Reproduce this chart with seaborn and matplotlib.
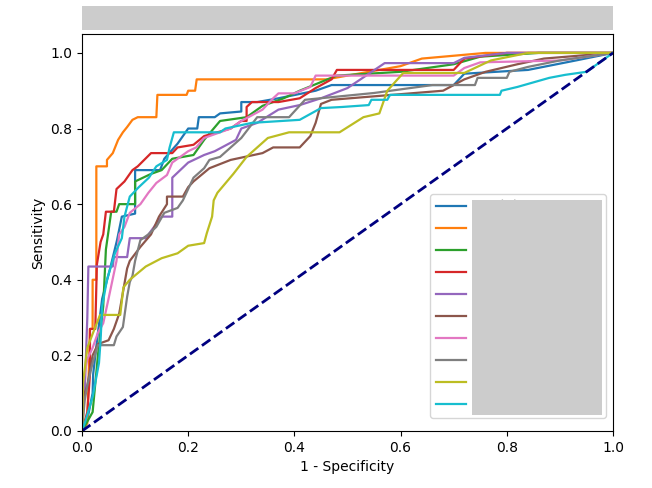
import matplotlib
matplotlib.use("Agg")
import matplotlib.pyplot as plt
from matplotlib.patches import Rectangle
from matplotlib.transforms import IdentityTransform
import seaborn as sns
import pandas as pd

models = ["Model A AUC 0.87", "Model B AUC 0.93", "Model C AUC 0.88",
          "Model D AUC 0.89", "Model E AUC 0.87", "Model F AUC 0.82",
          "Model G AUC 0.87", "Model H AUC 0.83", "Model I AUC 0.80",
          "Model J AUC 0.86"]

fpr_a = [0,0.01,0.02,0.021,0.03,0.038,0.053,0.066,0.075,0.1,0.1,0.147,0.155,0.18,0.2,0.217,0.22,0.25,0.26,0.3,0.3,0.33,0.37,0.44,0.47,0.70,0.72,0.84,0.93,1.0]
tpr_a = [0,0.03,0.1,0.15,0.26,0.35,0.43,0.505,0.567,0.575,0.69,0.69,0.72,0.76,0.80,0.80,0.83,0.83,0.84,0.845,0.87,0.87,0.88,0.90,0.915,0.915,0.945,0.955,0.98,1.0]

fpr_b = [0,0.01,0.015,0.02,0.02,0.027,0.027,0.047,0.047,0.058,0.068,0.077,0.085,0.095,0.105,0.14,0.142,0.197,0.2,0.213,0.216,0.46,0.60,0.64,0.76,1.0]
tpr_b = [0,0.02,0.27,0.27,0.40,0.40,0.70,0.70,0.717,0.735,0.77,0.79,0.804,0.823,0.83,0.83,0.889,0.889,0.90,0.90,0.93,0.93,0.965,0.985,1.0,1.0]

fpr_c = [0,0.02,0.03,0.04,0.045,0.055,0.065,0.07,0.1,0.1,0.13,0.15,0.17,0.21,0.23,0.26,0.31,0.34,0.38,0.41,0.48,0.6,0.7,0.75,0.86,1.0]
tpr_c = [0,0.05,0.2,0.33,0.48,0.58,0.58,0.6,0.6,0.66,0.68,0.69,0.72,0.73,0.77,0.82,0.83,0.86,0.88,0.9,0.94,0.95,0.97,0.99,1.0,1.0]

fpr_d = [0,0.01,0.015,0.015,0.025,0.028,0.035,0.04,0.045,0.06,0.065,0.08,0.095,0.105,0.13,0.17,0.18,0.21,0.23,0.28,0.3,0.31,0.31,0.32,0.37,0.41,0.44,0.47,0.48,0.70,0.72,0.8,1.0]
tpr_d = [0,0.05,0.15,0.27,0.27,0.44,0.5,0.52,0.58,0.58,0.64,0.66,0.69,0.70,0.735,0.735,0.75,0.757,0.78,0.8,0.82,0.82,0.857,0.87,0.87,0.88,0.907,0.93,0.955,0.955,0.985,1.0,1.0]

fpr_e = [0,0.005,0.01,0.012,0.058,0.06,0.085,0.09,0.12,0.15,0.17,0.17,0.185,0.2,0.23,0.25,0.29,0.3,0.33,0.37,0.41,0.45,0.5,0.57,0.70,0.72,0.8,1.0]
tpr_e = [0,0.1,0.3,0.435,0.435,0.46,0.46,0.51,0.51,0.567,0.567,0.67,0.69,0.71,0.73,0.74,0.77,0.80,0.815,0.85,0.862,0.88,0.907,0.973,0.973,0.987,1.0,1.0]

fpr_f = [0,0.0,0.01,0.02,0.03,0.05,0.06,0.07,0.085,0.09,0.11,0.13,0.145,0.16,0.16,0.19,0.2,0.21,0.24,0.28,0.34,0.36,0.41,0.43,0.44,0.45,0.47,0.68,0.72,0.76,0.82,0.87,1.0]
tpr_f = [0,0.08,0.12,0.2,0.23,0.24,0.27,0.31,0.43,0.45,0.487,0.52,0.567,0.60,0.62,0.62,0.645,0.66,0.695,0.717,0.735,0.75,0.75,0.78,0.815,0.865,0.876,0.9,0.93,0.95,0.97,0.985,1.0]

fpr_g = [0,0.002,0.01,0.02,0.03,0.04,0.05,0.065,0.07,0.08,0.09,0.11,0.125,0.14,0.16,0.17,0.185,0.2,0.215,0.23,0.28,0.3,0.34,0.36,0.37,0.4,0.43,0.44,0.7,0.72,0.75,0.9,1.0]
tpr_g = [0,0.13,0.19,0.22,0.26,0.285,0.35,0.45,0.52,0.54,0.577,0.60,0.63,0.656,0.677,0.71,0.725,0.74,0.75,0.775,0.80,0.82,0.85,0.88,0.893,0.893,0.91,0.94,0.94,0.96,0.975,0.98,1.0]

fpr_h = [0,0.005,0.01,0.02,0.03,0.06,0.065,0.077,0.085,0.09,0.095,0.1,0.11,0.125,0.14,0.155,0.18,0.19,0.2,0.21,0.23,0.24,0.26,0.28,0.3,0.33,0.39,0.42,0.55,0.66,0.74,0.745,0.8,0.805,0.84,0.9,1.0]
tpr_h = [0,0.08,0.12,0.18,0.227,0.227,0.25,0.275,0.355,0.394,0.41,0.45,0.505,0.52,0.54,0.577,0.59,0.61,0.64,0.67,0.695,0.717,0.725,0.75,0.775,0.83,0.83,0.876,0.894,0.915,0.915,0.934,0.934,0.95,0.963,0.98,1.0]

fpr_i = [0,0.002,0.01,0.025,0.034,0.072,0.078,0.09,0.12,0.15,0.18,0.2,0.23,0.235,0.245,0.248,0.255,0.285,0.31,0.35,0.39,0.485,0.53,0.56,0.575,0.605,0.72,0.77,0.84,1.0]
tpr_i = [0,0.127,0.22,0.275,0.307,0.307,0.38,0.40,0.435,0.457,0.47,0.49,0.497,0.523,0.567,0.61,0.63,0.68,0.725,0.775,0.79,0.79,0.83,0.84,0.90,0.947,0.947,0.98,1.0,1.0]

fpr_j = [0,0.005,0.02,0.032,0.035,0.038,0.047,0.062,0.075,0.08,0.09,0.107,0.126,0.14,0.16,0.165,0.173,0.26,0.27,0.32,0.41,0.45,0.49,0.54,0.545,0.575,0.58,0.787,0.79,0.82,0.88,0.91,0.95,1.0]
tpr_j = [0,0.02,0.09,0.18,0.24,0.33,0.40,0.47,0.51,0.567,0.62,0.645,0.67,0.70,0.717,0.75,0.79,0.79,0.80,0.815,0.823,0.854,0.857,0.862,0.876,0.876,0.889,0.889,0.90,0.91,0.934,0.942,0.95,1.0]

xticks = [0.0, 0.2, 0.4, 0.6, 0.8, 1.0]
yticks = [0.0, 0.2, 0.4, 0.6, 0.8, 1.0]

fprs = [fpr_a, fpr_b, fpr_c, fpr_d, fpr_e, fpr_f, fpr_g, fpr_h, fpr_i, fpr_j]
tprs = [tpr_a, tpr_b, tpr_c, tpr_d, tpr_e, tpr_f, tpr_g, tpr_h, tpr_i, tpr_j]

frames = []
for name, f, t in zip(models, fprs, tprs):
    assert len(f) == len(t), name
    frames.append(pd.DataFrame({"fpr": f, "tpr": t, "model": name}))
df = pd.concat(frames, ignore_index=True)

fig, ax = plt.subplots(figsize=(6.52, 4.88), dpi=100)
fig.subplots_adjust(left=82/652, right=613/652, top=1-34/488, bottom=1-431/488)

sns.lineplot(data=df, x="fpr", y="tpr", hue="model", units="model",
             estimator=None, sort=False, palette="tab10", linewidth=1.6, ax=ax)
ax.plot([0, 1], [0, 1], color="navy", lw=2, linestyle="--")

ax.set_xlim(0.0, 1.0)
ax.set_ylim(0.0, 1.05)
ax.set_xticks(xticks)
ax.set_yticks(yticks)
ax.set_xlabel("1 - Specificity")
ax.set_ylabel("Sensitivity")
ax.set_title("ROC curves of the models", color="#cccccc")

leg = ax.legend(loc="lower right", bbox_to_anchor=(0.987, 0.034),
                borderaxespad=0, handlelength=2.2, labelspacing=0.58,
                handletextpad=0.6)
for txt in leg.get_texts():
    txt.set_color("#cccccc")

# redaction boxes (title, legend labels)
fig.add_artist(Rectangle((82/652, 1-30/488), 531/652, 24/488,
                         transform=fig.transFigure, facecolor="#cccccc",
                         edgecolor="none", zorder=5))

fig.canvas.draw()
fb = leg.get_frame().get_window_extent()
tb = [t.get_window_extent() for t in leg.get_texts()]
x0 = min(b.x0 for b in tb) - 3
x1 = fb.x1 - 4
y0 = fb.y0 + 3
y1 = fb.y1 - 6
fig.add_artist(Rectangle((x0, y0), x1 - x0, y1 - y0, transform=IdentityTransform(),
                         facecolor="#cccccc", edgecolor="none", zorder=6))

fig.savefig("out.png", dpi=100)
